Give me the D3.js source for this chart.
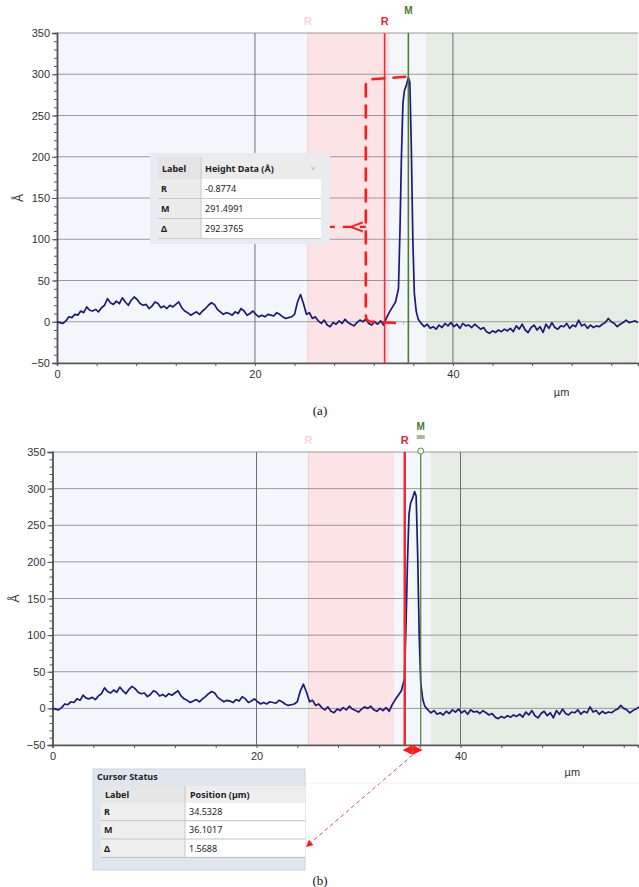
<!DOCTYPE html>
<html>
<head>
<meta charset="utf-8">
<script src="https://d3js.org/d3.v7.min.js"></script>
<style>
body { margin:0; background:#fff; }
svg { display:block; font-family: "Liberation Sans", Arial, sans-serif; }
.tick text { fill:#333; font-size:11px; }
.tbl { font-family: "Noto Sans", "Open Sans", sans-serif; font-size:9px; fill:#222; }
</style>
</head>
<body>
<div id="chart"></div>
<script>
// height profile (µm, Å)
var profileX = [0.0,0.3,0.6,0.9,1.2,1.5,1.8,2.1,2.4,2.7,3.0,3.3,3.6,3.9,4.2,4.5,4.8,5.1,5.4,5.7,6.0,6.3,6.6,6.9,7.2,7.5,7.8,8.1,8.4,8.7,9.0,9.3,9.6,9.9,10.2,10.5,10.8,11.1,11.4,11.7,12.0,12.3,12.6,12.9,13.2,13.5,13.8,14.1,14.4,14.7,15.0,15.3,15.6,15.9,16.2,16.5,16.8,17.1,17.4,17.7,18.0,18.3,18.6,18.9,19.2,19.5,19.8,20.1,20.4,20.7,21.0,21.3,21.6,21.9,22.2,22.5,22.8,23.1,23.4,23.7,24.0,24.3,24.6,24.9,25.2,25.5,25.8,26.1,26.4,26.7,27.0,27.3,27.6,27.9,28.2,28.5,28.8,29.1,29.4,29.7,30.0,30.3,30.6,30.9,31.2,31.5,31.8,32.1,32.4,32.7,33.0,33.3,33.6,33.9,34.2,34.5,34.65,34.8,34.95,35.1,35.3,35.5,35.65,35.8,35.95,36.1,36.3,36.5,36.8,37.1,37.4,37.7,38.0,38.3,38.6,38.9,39.2,39.5,39.8,40.1,40.4,40.7,41.0,41.3,41.6,41.9,42.2,42.5,42.8,43.1,43.4,43.7,44.0,44.3,44.6,44.9,45.2,45.5,45.8,46.1,46.4,46.7,47.0,47.3,47.6,47.9,48.2,48.5,48.8,49.1,49.4,49.7,50.0,50.3,50.6,50.9,51.2,51.5,51.8,52.1,52.4,52.7,53.0,53.3,53.6,53.9,54.2,54.5,54.8,55.1,55.4,55.7,56.0,56.3,56.6,56.9,57.2,57.5,57.8,58.1,58.4,58.7];
var profileH = [0,-1,-2,1,6,5,9,8,13,11,18,14,13,15,12,17,20,28,23,21,25,22,29,24,20,26,30,27,22,20,21,16,19,24,22,17,19,16,20,18,21,24,17,13,11,8,10,12,9,13,16,20,23,21,15,12,9,11,10,8,12,10,16,13,8,10,13,9,6,8,6,9,8,7,11,9,6,4,5,6,9,24,33,22,9,11,4,6,1,-2,2,-4,-6,-1,-3,1,-2,3,-1,-3,-5,-1,2,0,3,-2,-4,0,-3,1,-4,5,12,18,24,40,110,200,265,280,287,296,290,210,100,35,12,3,-2,-6,-3,-8,-6,-9,-4,-7,-2,-5,-1,-6,-3,-8,-2,-5,-4,-7,-3,-6,-9,-7,-12,-14,-11,-13,-10,-12,-9,-11,-8,-12,-5,-9,-3,-10,-13,-7,-4,-10,-6,-13,-3,-8,-1,-7,-9,-5,-6,-2,-8,-4,-6,2,-5,-3,-8,-4,-7,-5,-6,-3,-1,4,0,-2,-6,-3,-1,2,-1,0,1,-1];

var yTicks = [-50,0,50,100,150,200,250,300,350];
var xLabelTicks = [0,20,40];
var tableRowsA = ["R","M","Δ"];
var heightValues = ["-0.8774","291.4991","292.3765"];
var positionValues = ["34.5328","36.1017","1.5688"];

// panel settings: cursor and band positions in µm
var panels = [
  {id:"a", left:57, right:638, top:33, bottom:363, xmax:58.7, pink:[25.35,33.6], green:37.3, R:33.1, M:35.5, caption:"(a)", capY:415, unitY:396},
  {id:"b", left:52.5, right:638, top:452, bottom:745, xmax:57.4, pink:[25.1,33.5], green:37.1, R:34.5328, M:36.1017, caption:"(b)", capY:885, unitY:776}
];

var svg = d3.select("#chart").append("svg").attr("width",639).attr("height",887);

var data = profileX.map(function(d,i){ return {x:d, h:profileH[i]}; });

panels.forEach(function(p){
  var x = d3.scaleLinear().domain([0,p.xmax]).range([p.left,p.right]);
  var y = d3.scaleLinear().domain([-50,350]).range([p.bottom,p.top]);
  p.x = x; p.y = y;
  var g = svg.append("g");

  // backgrounds
  g.append("rect").attr("x",x(0)).attr("y",y(350)).attr("width",x(p.xmax)-x(0)).attr("height",y(-50)-y(350)).attr("fill","#f3f7fc");
  g.append("rect").attr("x",x(p.pink[0])).attr("y",y(350)).attr("width",x(p.pink[1])-x(p.pink[0])).attr("height",y(-50)-y(350)).attr("fill","#fbe3e6");
  g.append("rect").attr("x",x(p.green)).attr("y",y(350)).attr("width",x(p.xmax)-x(p.green)).attr("height",y(-50)-y(350)).attr("fill","#e5ece4");
  g.append("line").attr("x1",x(p.pink[0])).attr("x2",x(p.pink[0])).attr("y1",y(350)).attr("y2",y(-50)).attr("stroke","#f5cdd3").attr("stroke-width",1);

  // grid
  g.selectAll(".hg").data(yTicks).enter().append("line")
    .attr("x1",x(0)).attr("x2",x(p.xmax)).attr("y1",function(d){return y(d);}).attr("y2",function(d){return y(d);})
    .attr("stroke","#9a9a9a").attr("stroke-width",1);
  g.selectAll(".vg").data([20,40]).enter().append("line")
    .attr("x1",function(d){return x(d);}).attr("x2",function(d){return x(d);}).attr("y1",y(350)).attr("y2",y(-50))
    .attr("stroke","#707070").attr("stroke-width",1);

  // axes
  g.append("g").attr("transform","translate("+x(0)+",0)")
    .call(d3.axisLeft(y).tickValues(yTicks).tickSize(5).tickPadding(2));
  g.append("g").attr("transform","translate("+x(0)+",0)")
    .call(d3.axisLeft(y).tickValues(d3.range(-50,351,10)).tickSize(3).tickFormat(""));
  g.append("g").attr("transform","translate(0,"+y(-50)+")")
    .call(d3.axisBottom(x).tickValues(d3.range(0,p.xmax,4)).tickSize(3).tickFormat(function(d){ return xLabelTicks.indexOf(d)>=0 ? d : ""; }).tickPadding(4));
  svg.selectAll(".domain").attr("stroke","#555").attr("stroke-width",1.5);
  svg.selectAll(".tick line").attr("stroke","#555");

  g.append("text").attr("transform","translate("+(x(0)-38)+","+y(150)+") rotate(-90)")
    .attr("text-anchor","middle").attr("dy","0.35em").attr("font-size",12).attr("fill","#333").text("Å");
  g.append("text").attr("x",x(50.2)).attr("y",p.unitY).attr("font-size",11).attr("fill","#333").text("µm");
  g.append("text").attr("x",320).attr("y",p.capY).attr("text-anchor","middle")
    .attr("font-family","'Liberation Serif', serif").attr("font-size",13).attr("fill","#111").text(p.caption);

  // profile
  g.append("path").datum(data)
    .attr("d", d3.line().x(function(d){return x(d.x);}).y(function(d){return y(d.h);}))
    .attr("fill","none").attr("stroke","#1a1a78").attr("stroke-width",1.7).attr("stroke-linejoin","round");

  // cursors
  g.append("line").attr("x1",x(p.R)).attr("x2",x(p.R)).attr("y1",y(350)).attr("y2",y(-50))
    .attr("stroke","#ee2a34").attr("stroke-width",p.id=="b"?2.5:1.6);
  g.append("line").attr("x1",x(p.M)).attr("x2",x(p.M)).attr("y1",y(350)).attr("y2",y(-50))
    .attr("stroke","#4e7d2e").attr("stroke-width",p.id=="b"?1.2:1.6);
  g.append("text").attr("x",x(p.pink[0])).attr("y",y(350)-8).attr("text-anchor","middle")
    .attr("font-size",11).attr("font-weight","bold").attr("fill","#fad6db").text("R");
  g.append("text").attr("x",x(p.R)).attr("y",y(350)-8).attr("text-anchor","middle")
    .attr("font-size",11).attr("font-weight","bold").attr("fill","#ea2430").text("R");
  g.append("text").attr("x",x(p.M)).attr("y",y(350)-(p.id=="b"?22:19)).attr("text-anchor","middle")
    .attr("font-size",10).attr("font-weight","bold").attr("fill","#4b7a2c").text("M");
});

// ---- panel (a) annotation and table ----
var pa = panels[0], xa = pa.x, yA = pa.y;
var bx = xa(31.2);
svg.append("path")
  .attr("d","M"+xa(35.3)+","+yA(297)+" L"+(bx+6)+","+yA(294)+" Q"+bx+","+yA(293)+" "+bx+","+yA(286)+
            " L"+bx+","+yA(8)+" Q"+bx+","+yA(0)+" "+(bx+6)+","+yA(0)+" L"+xa(35.0)+","+yA(-2))
  .attr("fill","none").attr("stroke","#ff1a1a").attr("stroke-width",2.6).attr("stroke-dasharray","14,7");
svg.append("path").attr("d","M"+(bx-40)+","+yA(115)+" L"+bx+","+yA(115))
  .attr("fill","none").attr("stroke","#ff1a1a").attr("stroke-width",2.2).attr("stroke-dasharray","9,8");
svg.append("path").attr("d","M"+(bx-3)+","+(yA(115)-4.5)+" L"+(bx-15)+","+yA(115)+" L"+(bx-3)+","+(yA(115)+4.5))
  .attr("fill","none").attr("stroke","#ff1a1a").attr("stroke-width",2);

var ta = svg.append("g");
ta.append("rect").attr("x",150).attr("y",153).attr("width",180).attr("height",91).attr("fill","#e8ecf1");
ta.append("rect").attr("x",158).attr("y",157).attr("width",43).attr("height",22).attr("fill","#e4e4e4");
ta.append("rect").attr("x",201).attr("y",157).attr("width",120).attr("height",22).attr("fill","#ececec");
ta.append("text").attr("class","tbl").attr("x",162).attr("y",172).attr("font-weight","bold").text("Label");
ta.append("text").attr("class","tbl").attr("x",205).attr("y",172).attr("font-weight","bold").text("Height Data (Å)");
ta.append("text").attr("x",313).attr("y",171).attr("font-size",8).attr("fill","#aaa").attr("text-anchor","middle").text("˅");
tableRowsA.forEach(function(r,i){
  var ry = 179 + i*20;
  ta.append("rect").attr("x",158).attr("y",ry).attr("width",43).attr("height",19).attr("fill","#ececec");
  ta.append("rect").attr("x",201).attr("y",ry).attr("width",120).attr("height",19).attr("fill","#fff");
  ta.append("line").attr("x1",158).attr("x2",321).attr("y1",ry+19.5).attr("y2",ry+19.5).attr("stroke","#c8c8c8");
  ta.append("text").attr("class","tbl").attr("x",161).attr("y",ry+13).attr("font-weight","bold").text(r);
  ta.append("text").attr("class","tbl").attr("x",205).attr("y",ry+13).attr("fill","#333").text(heightValues[i]);
});
ta.append("line").attr("x1",201).attr("x2",201).attr("y1",157).attr("y2",238).attr("stroke","#c8c8c8");

// ---- panel (b) annotation and table ----
var pb = panels[1], xb = pb.x, yB = pb.y;
var defs = svg.append("defs");
defs.append("marker").attr("id","ah").attr("viewBox","0 0 10 10").attr("refX",8).attr("refY",5)
  .attr("markerWidth",5).attr("markerHeight",5).attr("orient","auto-start-reverse")
  .append("path").attr("d","M0,0 L10,5 L0,10 z").attr("fill","#ff1a1a");
defs.append("marker").attr("id","ah2").attr("viewBox","0 0 10 10").attr("refX",8).attr("refY",5)
  .attr("markerWidth",7).attr("markerHeight",7).attr("orient","auto")
  .append("path").attr("d","M0,0 L10,5 L0,10 z").attr("fill","#ff1a1a");
svg.append("line").attr("x1",xb(pb.R)).attr("x2",xb(pb.M)).attr("y1",yB(-50)+5).attr("y2",yB(-50)+5)
  .attr("stroke","#ff1a1a").attr("stroke-width",2).attr("marker-start","url(#ah)").attr("marker-end","url(#ah)");
svg.append("line").attr("x1",xb(35.3)).attr("y1",yB(-50)+10).attr("x2",307).attr("y2",846)
  .attr("stroke","#e84a4a").attr("stroke-width",1).attr("stroke-dasharray","4,3").attr("marker-end","url(#ah2)");
// M marker
svg.append("circle").attr("cx",xb(pb.M)).attr("cy",yB(350)-1).attr("r",3).attr("fill","#f3f7fc").attr("stroke","#6b8a4a");
svg.append("line").attr("x1",xb(pb.M)-4).attr("x2",xb(pb.M)+4).attr("y1",yB(350)-16).attr("y2",yB(350)-16).attr("stroke","#4b7a2c");
svg.append("line").attr("x1",xb(pb.M)-4).attr("x2",xb(pb.M)+4).attr("y1",yB(350)-14).attr("y2",yB(350)-14).attr("stroke","#4b7a2c");
svg.append("line").attr("x1",305).attr("x2",639).attr("y1",783).attr("y2",783).attr("stroke","#eeeeee");

var tb = svg.append("g");
tb.append("rect").attr("x",93).attr("y",769).attr("width",212).attr("height",101).attr("fill","#dfe6ef").attr("stroke","#cbd5e1");
tb.append("text").attr("class","tbl").attr("x",97).attr("y",780).attr("font-weight","bold").text("Cursor Status");
tb.append("rect").attr("x",101).attr("y",786).attr("width",84).attr("height",17).attr("fill","#e6e6e6");
tb.append("rect").attr("x",185).attr("y",786).attr("width",120).attr("height",17).attr("fill","#eeeeee");
tb.append("text").attr("class","tbl").attr("x",105).attr("y",798).attr("font-weight","bold").text("Label");
tb.append("text").attr("class","tbl").attr("x",190).attr("y",798).attr("font-weight","bold").text("Position (µm)");
tableRowsA.forEach(function(r,i){
  var ry = 803 + i*18.3;
  tb.append("rect").attr("x",101).attr("y",ry).attr("width",84).attr("height",17.5).attr("fill","#eeeeee");
  tb.append("rect").attr("x",185).attr("y",ry).attr("width",120).attr("height",17.5).attr("fill","#fff");
  tb.append("line").attr("x1",101).attr("x2",305).attr("y1",ry+17.8).attr("y2",ry+17.8).attr("stroke","#bdbdbd");
  tb.append("text").attr("class","tbl").attr("x",104).attr("y",ry+12).attr("font-weight","bold").text(r);
  tb.append("text").attr("class","tbl").attr("x",189).attr("y",ry+12).attr("fill","#333").text(positionValues[i]);
});
tb.append("line").attr("x1",185).attr("x2",185).attr("y1",786).attr("y2",858).attr("stroke","#c8c8c8");
</script>
</body>
</html>
